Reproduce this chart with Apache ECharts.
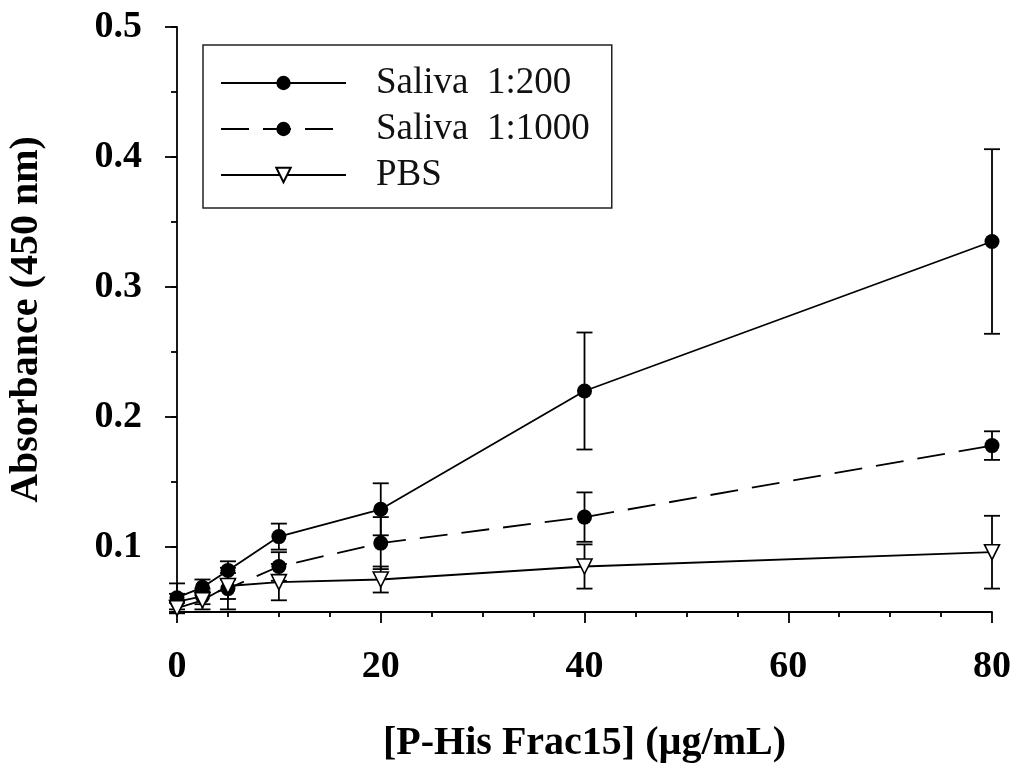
<!DOCTYPE html>
<html>
<head>
<meta charset="utf-8">
<script src="https://cdn.jsdelivr.net/npm/echarts@6/dist/echarts.min.js"></script>
<style>
  html, body { margin: 0; padding: 0; background: #fff; }
  #chart { width: 1016px; height: 764px; }
</style>
</head>
<body>
<div id="chart"></div>
<script>
// concentrations (µg/mL)
const conc = [0, 2.5, 5, 10, 20, 40, 80];

const saliva200 = [0.061, 0.069, 0.082, 0.108, 0.129, 0.220, 0.335];
const saliva200Err = [0.011, 0.006, 0.007, 0.010, 0.020, 0.045, 0.071];

const saliva1000 = [0.058, 0.062, 0.068, 0.085, 0.103, 0.123, 0.178];
const saliva1000Err = [0.006, 0.006, 0.016, 0.011, 0.020, 0.019, 0.011];

const pbs = [0.053, 0.059, 0.070, 0.073, 0.075, 0.085, 0.096];
const pbsErr = [0.004, 0.007, 0.010, 0.014, 0.010, 0.017, 0.028];

const xLabels = [0, 20, 40, 60, 80];
const yLabels = [0.1, 0.2, 0.3, 0.4, 0.5];

const font = 'Liberation Serif';

function pairs(ys) {
  return conc.map((x, i) => [x, ys[i]]);
}
function errRows(ys, es) {
  return conc.map((x, i) => [x, ys[i], es[i]]);
}

// vertical error bar with caps
function renderErr(params, api) {
  const x = api.value(0), y = api.value(1), e = api.value(2);
  const top = api.coord([x, y + e]);
  const bot = api.coord([x, y - e]);
  const cap = 8;
  const style = { stroke: '#000', lineWidth: 1.8 };
  return {
    type: 'group',
    children: [
      { type: 'line', shape: { x1: top[0], y1: top[1], x2: bot[0], y2: bot[1] }, style },
      { type: 'line', shape: { x1: top[0] - cap, y1: top[1], x2: top[0] + cap, y2: top[1] }, style },
      { type: 'line', shape: { x1: bot[0] - cap, y1: bot[1], x2: bot[0] + cap, y2: bot[1] }, style }
    ]
  };
}

const chart = echarts.init(document.getElementById('chart'));

chart.setOption({
  animation: false,
  backgroundColor: '#fff',
  grid: { left: 177, right: 24, top: 27, bottom: 152, outerBoundsMode: 'none' },
  legend: {
    left: 203,
    top: 45,
    orient: 'vertical',
    padding: [15, 22, 10, 17],
    itemWidth: 125,
    itemHeight: 18,
    itemGap: 0,
    borderColor: '#222',
    borderWidth: 1.5,
    backgroundColor: '#fff',
    textStyle: {
      fontFamily: font,
      fontSize: 37,
      color: '#111',
      lineHeight: 46,
      padding: [0, 0, 0, 25]
    },
    data: ['Saliva  1:200', 'Saliva  1:1000', 'PBS']
  },
  xAxis: {
    type: 'value',
    min: 0,
    max: 80,
    interval: 20,
    splitLine: { show: false },
    axisLine: { lineStyle: { color: '#000', width: 1.8 } },
    axisTick: { length: 11, lineStyle: { color: '#000', width: 1.8 } },
    minorTick: { show: true, splitNumber: 4, length: 5, lineStyle: { color: '#000', width: 1.8 } },
    axisLabel: {
      customValues: xLabels,
      margin: 36,
      fontFamily: font,
      fontWeight: 'bold',
      fontSize: 38,
      color: '#000'
    },
    name: '[P-His Frac15] (µg/mL)',
    nameLocation: 'middle',
    nameGap: 112,
    nameTextStyle: { fontFamily: font, fontWeight: 'bold', fontSize: 40, color: '#000' }
  },
  yAxis: [
    {
      type: 'value',
      position: 'left',
      min: 0.05,
      max: 0.5,
      interval: 0.05,
      splitLine: { show: false },
      axisLine: { show: true, lineStyle: { color: '#000', width: 1.8 } },
      axisTick: { show: true, length: 6, lineStyle: { color: '#000', width: 1.8 } },
      axisLabel: {
        customValues: yLabels,
        formatter: v => v.toFixed(1),
        margin: 35,
        fontFamily: font,
        fontWeight: 'bold',
        fontSize: 38,
        color: '#000'
      },
      name: 'Absorbance (450 nm)',
      nameLocation: 'middle',
      nameGap: 130,
      nameTextStyle: { fontFamily: font, fontWeight: 'bold', fontSize: 40, color: '#000' }
    },
    {
      type: 'value',
      position: 'left',
      min: 0.05,
      max: 0.5,
      splitLine: { show: false },
      axisLine: { show: false },
      axisTick: { show: true, customValues: yLabels, length: 12, lineStyle: { color: '#000', width: 1.8 } },
      axisLabel: { show: false }
    }
  ],
  series: [
    {
      type: 'custom',
      renderItem: renderErr,
      data: errRows(saliva1000, saliva1000Err),
      z: 1,
      silent: true
    },
    {
      type: 'custom',
      renderItem: renderErr,
      data: errRows(saliva200, saliva200Err),
      z: 1,
      silent: true
    },
    {
      type: 'custom',
      renderItem: renderErr,
      data: errRows(pbs, pbsErr),
      z: 1,
      silent: true
    },
    {
      name: 'Saliva  1:1000',
      type: 'line',
      data: pairs(saliva1000),
      symbol: 'circle',
      symbolSize: 15,
      itemStyle: { color: '#000' },
      lineStyle: { color: '#000', width: 1.8, type: [28, 14] },
      z: 2
    },
    {
      name: 'Saliva  1:200',
      type: 'line',
      data: pairs(saliva200),
      symbol: 'circle',
      symbolSize: 15,
      itemStyle: { color: '#000' },
      lineStyle: { color: '#000', width: 1.8 },
      z: 3
    },
    {
      name: 'PBS',
      type: 'line',
      data: pairs(pbs),
      symbol: 'triangle',
      symbolRotate: 180,
      symbolSize: 15,
      itemStyle: { color: '#fff', borderColor: '#000', borderWidth: 1.6 },
      lineStyle: { color: '#000', width: 1.8 },
      z: 4
    }
  ]
});
</script>
</body>
</html>
